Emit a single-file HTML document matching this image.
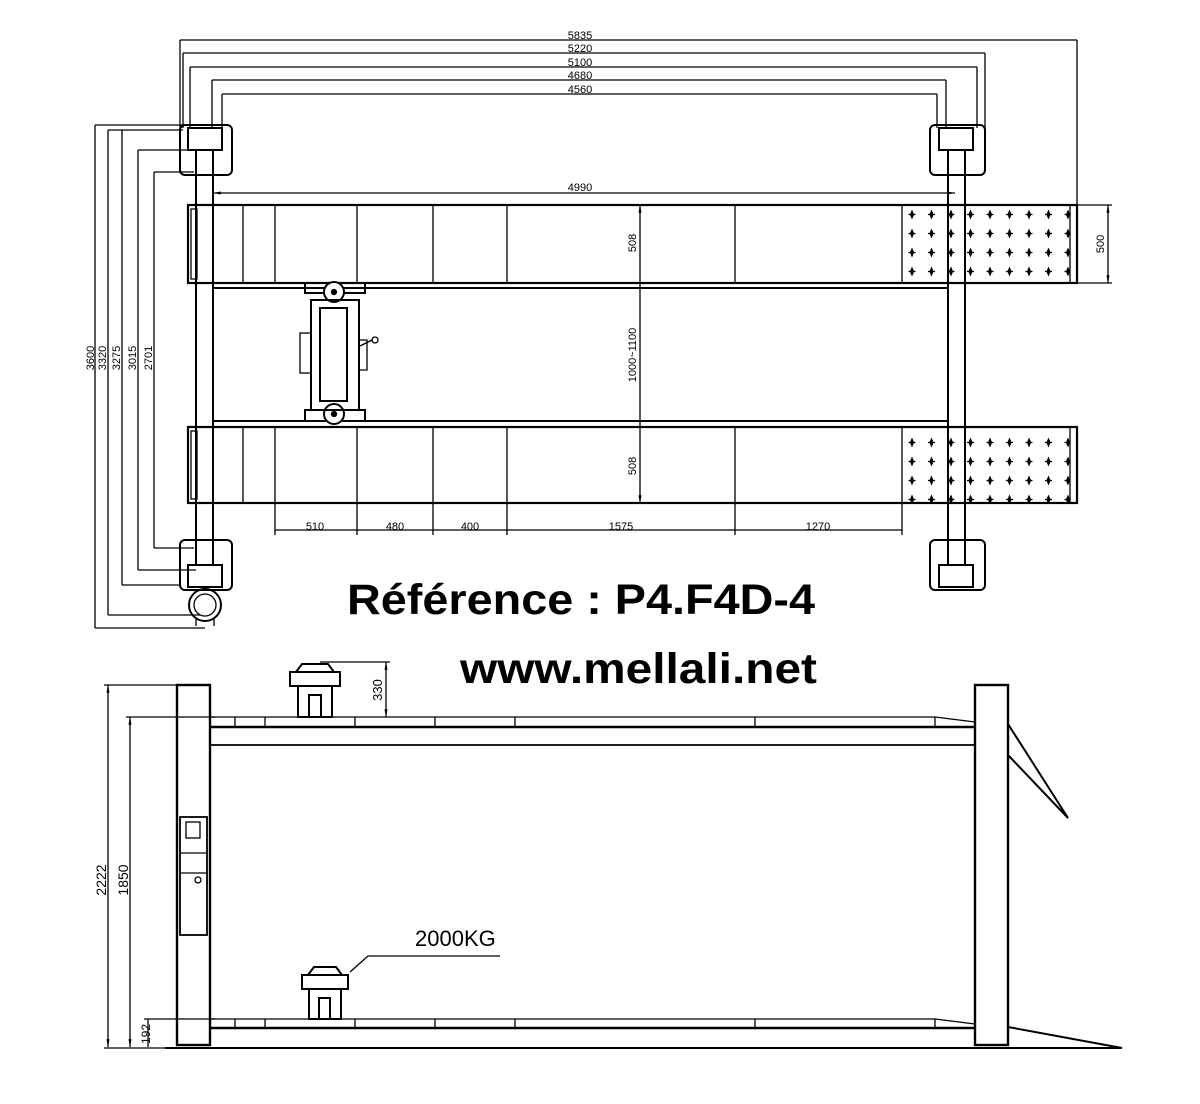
<!DOCTYPE html>
<html><head><meta charset="utf-8"><style>
html,body{margin:0;padding:0;background:#fff;}
svg{display:block;}
.t{font-family:"Liberation Sans",sans-serif;font-size:11px;fill:#000;}
</style></head><body>
<svg width="1200" height="1104" viewBox="0 0 1200 1104" xmlns="http://www.w3.org/2000/svg">
<defs>
<pattern id="dots" x="902" y="205" width="19.5" height="19" patternUnits="userSpaceOnUse">
<path d="M10 6 L11.5 9.5 L10 13 L8.5 9.5Z M6.5 9.5 L13.5 9.5" stroke="#000" stroke-width="1.2" fill="#000"/>
</pattern>
<marker id="a" viewBox="0 0 10 10" refX="10" refY="5" markerWidth="8" markerHeight="6" orient="auto-start-reverse"><path d="M0 3 L10 5 L0 7Z" fill="#000"/></marker>
</defs>
<g fill="none" stroke="#000" stroke-width="1.3">
<line x1="180" y1="40" x2="1077" y2="40"/>
<line x1="183" y1="53" x2="985" y2="53"/>
<line x1="190" y1="67" x2="977" y2="67"/>
<line x1="212" y1="80" x2="946" y2="80"/>
<line x1="222" y1="94" x2="937" y2="94"/>
<line x1="180" y1="40" x2="180" y2="130"/><line x1="1077" y1="40" x2="1077" y2="205"/>
<line x1="183" y1="53" x2="183" y2="128"/><line x1="985" y1="53" x2="985" y2="128"/>
<line x1="190" y1="67" x2="190" y2="128"/><line x1="977" y1="67" x2="977" y2="128"/>
<line x1="212" y1="80" x2="212" y2="128"/><line x1="946" y1="80" x2="946" y2="128"/>
<line x1="222" y1="94" x2="222" y2="128"/><line x1="937" y1="94" x2="937" y2="128"/>
<line x1="95" y1="125" x2="95" y2="628"/><line x1="95" y1="125" x2="185" y2="125"/><line x1="95" y1="628" x2="205" y2="628"/>
<line x1="108" y1="130" x2="108" y2="615"/><line x1="108" y1="130" x2="183" y2="130"/><line x1="108" y1="615" x2="200" y2="615"/>
<line x1="122" y1="130" x2="122" y2="585"/><line x1="122" y1="585" x2="180" y2="585"/>
<line x1="138" y1="150" x2="138" y2="570"/><line x1="138" y1="150" x2="196" y2="150"/><line x1="138" y1="570" x2="196" y2="570"/>
<line x1="154" y1="172" x2="154" y2="548"/><line x1="154" y1="172" x2="194" y2="172"/><line x1="154" y1="548" x2="194" y2="548"/>
<line x1="213" y1="193" x2="955" y2="193" marker-end="url(#a)" marker-start="url(#a)"/>
<rect x="180" y="125" width="52" height="50" rx="5" stroke-width="2"/>
<rect x="188" y="128" width="34" height="22" stroke-width="2"/>
<rect x="930" y="125" width="55" height="50" rx="5" stroke-width="2"/>
<rect x="939" y="128" width="34" height="22" stroke-width="2"/>
<rect x="180" y="540" width="52" height="50" rx="5" stroke-width="2"/>
<rect x="188" y="565" width="34" height="22" stroke-width="2"/>
<rect x="930" y="540" width="55" height="50" rx="5" stroke-width="2"/>
<rect x="939" y="565" width="34" height="22" stroke-width="2"/>
<circle cx="205" cy="605" r="16" stroke-width="2"/><circle cx="205" cy="605" r="11"/>
<line x1="196" y1="617" x2="196" y2="626"/><line x1="214" y1="617" x2="214" y2="626"/>
<line x1="196" y1="150" x2="196" y2="565" stroke-width="2"/><line x1="213" y1="150" x2="213" y2="565" stroke-width="2"/>
<line x1="948" y1="150" x2="948" y2="565" stroke-width="2"/><line x1="965" y1="150" x2="965" y2="565" stroke-width="2"/>
<line x1="213" y1="288" x2="948" y2="288" stroke-width="2"/>
<line x1="213" y1="421" x2="948" y2="421" stroke-width="2"/>
<rect x="902" y="205" width="168" height="78" fill="url(#dots)" stroke="none"/>
<rect x="902" y="427" width="168" height="76" fill="url(#dots)" stroke="none"/>
<rect x="188" y="205" width="889" height="78" stroke-width="2.2"/>
<rect x="188" y="427" width="889" height="76" stroke-width="2.2"/>
<rect x="191" y="209" width="6" height="70"/><rect x="191" y="431" width="6" height="68"/>
<path d="M243 205V283M275 205V283M357 205V283M433 205V283M507 205V283M735 205V283M902 205V283M1070 205V283"/>
<path d="M243 427V503M275 427V503M357 427V503M433 427V503M507 427V503M735 427V503M902 427V503M1070 427V503"/>
<rect x="305" y="283" width="60" height="10" stroke-width="2"/>
<rect x="305" y="410" width="60" height="11" stroke-width="2"/>
<circle cx="334" cy="292" r="10" fill="#fff" stroke-width="2"/><circle cx="334" cy="292" r="2.5" fill="#000"/>
<circle cx="334" cy="414" r="10" fill="#fff" stroke-width="2"/><circle cx="334" cy="414" r="2.5" fill="#000"/>
<rect x="311" y="300" width="48" height="110" stroke-width="2"/>
<rect x="320" y="308" width="27" height="93" stroke-width="2"/>
<rect x="300" y="333" width="11" height="40"/>
<path d="M359 340 h8 v30 h-8 M360 346 l12 -6"/><circle cx="375" cy="340" r="3"/>
<line x1="640" y1="205" x2="640" y2="503" marker-start="url(#a)" marker-end="url(#a)"/>
<line x1="1108" y1="205" x2="1108" y2="283" marker-start="url(#a)" marker-end="url(#a)"/>
<line x1="1077" y1="205" x2="1112" y2="205"/><line x1="1077" y1="283" x2="1112" y2="283"/>
<line x1="275" y1="530" x2="902" y2="530"/>
<path d="M275 503V535M357 503V535M433 503V535M507 503V535M735 503V535M902 503V535"/>
<rect x="177" y="685" width="33" height="360" stroke-width="2.4"/>
<rect x="975" y="685" width="33" height="360" stroke-width="2.4"/>
<line x1="165" y1="1048" x2="1122" y2="1048" stroke-width="2"/>
<line x1="210" y1="717" x2="935" y2="717"/><line x1="935" y1="717" x2="975" y2="722"/>
<line x1="210" y1="727" x2="975" y2="727" stroke-width="2.4"/>
<line x1="210" y1="745" x2="975" y2="745" stroke-width="1.8"/>
<path d="M235 717v10M265 717v10M355 717v10M435 717v10M515 717v10M755 717v10M935 717v10"/>
<line x1="210" y1="1019" x2="935" y2="1019"/><line x1="935" y1="1019" x2="975" y2="1024"/>
<line x1="210" y1="1028" x2="975" y2="1028" stroke-width="2.4"/>
<path d="M235 1019v9M265 1019v9M355 1019v9M435 1019v9M515 1019v9M755 1019v9M935 1019v9"/>
<path d="M1008 724 L1068 818 L1008 755" stroke-width="2"/>
<path d="M1008 1027 L1122 1048" stroke-width="2"/>
<rect x="180" y="817" width="27" height="118" stroke-width="1.8"/>
<rect x="186" y="822" width="14" height="16"/>
<line x1="180" y1="853" x2="207" y2="853"/><line x1="180" y1="873" x2="207" y2="873"/>
<circle cx="198" cy="880" r="3"/>
<g stroke-width="2">
<rect x="290" y="672" width="50" height="14"/><path d="M296 672 l6 -8 h26 l6 8"/>
<rect x="298" y="686" width="34" height="31"/><rect x="309" y="695" width="12" height="22"/>
<rect x="302" y="975" width="46" height="14"/><path d="M308 975 l6 -8 h22 l6 8"/>
<rect x="309" y="989" width="32" height="30"/><rect x="319" y="998" width="11" height="21"/>
</g>
<line x1="386" y1="662" x2="386" y2="717" marker-start="url(#a)" marker-end="url(#a)"/>
<line x1="320" y1="662" x2="390" y2="662"/>
<line x1="108" y1="685" x2="108" y2="1047" marker-start="url(#a)" marker-end="url(#a)"/>
<line x1="104" y1="685" x2="210" y2="685"/><line x1="104" y1="1048" x2="165" y2="1048"/>
<line x1="130" y1="717" x2="130" y2="1047" marker-start="url(#a)" marker-end="url(#a)"/>
<line x1="126" y1="717" x2="215" y2="717"/>
<line x1="148" y1="1019" x2="148" y2="1047"/><line x1="144" y1="1019" x2="215" y2="1019"/>
<path d="M350 972 L368 956 H500"/>
</g>
<g class="t" text-anchor="middle">
<text x="580" y="39">5835</text><text x="580" y="52">5220</text><text x="580" y="66">5100</text>
<text x="580" y="79">4680</text><text x="580" y="93">4560</text><text x="580" y="191">4990</text>
<text x="315" y="530">510</text><text x="395" y="530">480</text><text x="470" y="530">400</text>
<text x="621" y="530">1575</text><text x="818" y="530">1270</text>
<text transform="translate(636,243) rotate(-90)">508</text>
<text transform="translate(636,355) rotate(-90)">1000~1100</text>
<text transform="translate(636,466) rotate(-90)">508</text>
<text transform="translate(1104,244) rotate(-90)">500</text>
<text transform="translate(94,358) rotate(-90)">3600</text>
<text transform="translate(106,358) rotate(-90)">3320</text>
<text transform="translate(120,358) rotate(-90)">3275</text>
<text transform="translate(136,358) rotate(-90)">3015</text>
<text transform="translate(152,358) rotate(-90)">2701</text>
<text transform="translate(382,690) rotate(-90)" style="font-size:13px">330</text>
<text transform="translate(106,880) rotate(-90)" style="font-size:14px">2222</text>
<text transform="translate(128,880) rotate(-90)" style="font-size:14px">1850</text>
<text transform="translate(150,1034) rotate(-90)" style="font-size:12px">192</text>
</g>
<text x="415" y="946" style="font-family:'Liberation Sans',sans-serif;font-size:22px">2000KG</text>
<text x="347" y="614" textLength="468" lengthAdjust="spacingAndGlyphs" style="font-family:'Liberation Sans',sans-serif;font-size:43px;font-weight:bold">Référence : P4.F4D-4</text>
<text x="460" y="683" textLength="357" lengthAdjust="spacingAndGlyphs" style="font-family:'Liberation Sans',sans-serif;font-size:43px;font-weight:bold">www.mellali.net</text>
</svg>
</body></html>
